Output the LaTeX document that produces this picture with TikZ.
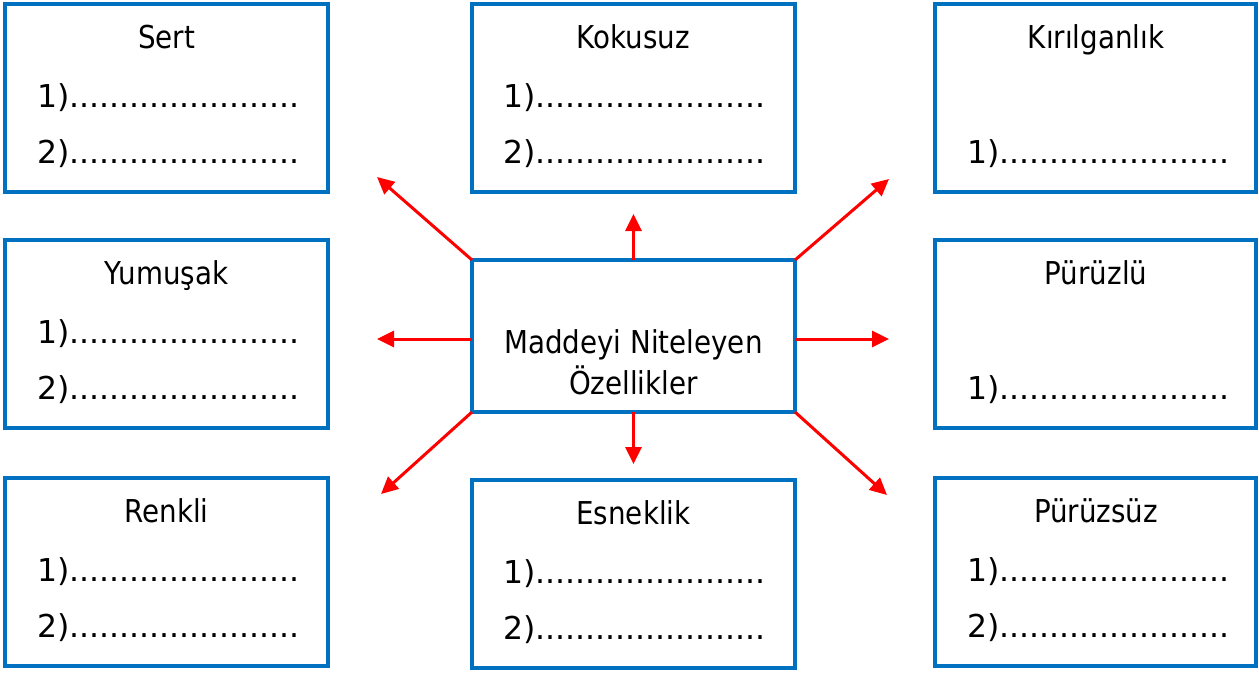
\documentclass[tikz,border=0pt]{standalone}
\usepackage{fontspec}
\setmainfont{DejaVu Sans}[FakeStretch=0.88]
\newfontfamily\dotfont{DejaVu Sans}
\usetikzlibrary{arrows.meta}
\definecolor{boxblue}{HTML}{0070C0}
\definecolor{arrred}{HTML}{FF0000}
\newcommand{\dl}{.......................}
\begin{document}
\begin{tikzpicture}[x=1pt,y=-1pt,
  boxnode/.style={draw=boxblue, line width=3.2pt, rectangle, minimum width=323pt, minimum height=188pt, inner sep=0pt, outer sep=0pt},
  titletext/.style={anchor=base, font=\fontsize{31.5}{37}\selectfont, inner sep=0pt},
  linetext/.style={anchor=base west, font=\dotfont\fontsize{31.5}{37}\selectfont, inner sep=0pt},
  arrowline/.style={draw=arrred, line width=3pt, -{Triangle[length=17pt,width=16pt]}}]
\useasboundingbox[fill=white] (0,0) rectangle (1259,673);

% boxes
\node[boxnode] (sert) at (166.5,98) {};
\node[boxnode] (kok) at (633.5,98) {};
\node[boxnode, minimum width=321pt] (kir) at (1095.5,98) {};
\node[boxnode] (yum) at (166.5,334) {};
\node[boxnode, minimum width=321pt] (puz) at (1095.5,334) {};
\node[boxnode] (ren) at (166.5,572) {};
\node[boxnode] (esn) at (633.5,574) {};
\node[boxnode, minimum width=321pt] (pzs) at (1095.5,572) {};
\node[boxnode, minimum height=152pt] (c) at (633.5,336) {};

% texts
\node[titletext] (sertT) at (166.5,48) {Sert};
\node[linetext] (sert1) at (37,107) {1)\dl};
\node[linetext] (sert2) at (37,163) {2)\dl};

\node[titletext] (kokT) at (633.5,48) {Kokusuz};
\node[linetext] (kok1) at (503,107) {1)\dl};
\node[linetext] (kok2) at (503,163) {2)\dl};

\node[titletext] (kirT) at (1096,48) {Kırılganlık};
\node[linetext] (kir1) at (967,163) {1)\dl};

\node[titletext] (yumT) at (166.5,284) {Yumuşak};
\node[linetext] (yum1) at (37,343) {1)\dl};
\node[linetext] (yum2) at (37,399) {2)\dl};

\node[titletext] (puzT) at (1096,284) {Pürüzlü};
\node[linetext] (puz1) at (967,399) {1)\dl};

\node[titletext] (renT) at (166.5,522) {Renkli};
\node[linetext] (ren1) at (37,581) {1)\dl};
\node[linetext] (ren2) at (37,637) {2)\dl};

\node[titletext] (esnT) at (633.5,524) {Esneklik};
\node[linetext] (esn1) at (503,583) {1)\dl};
\node[linetext] (esn2) at (503,639) {2)\dl};

\node[titletext] (pzsT) at (1096,522) {Pürüzsüz};
\node[linetext] (pzs1) at (967,581) {1)\dl};
\node[linetext] (pzs2) at (967,637) {2)\dl};

\node[titletext] (ct1) at (633.5,353) {Maddeyi Niteleyen};
\node[titletext] (ct2) at (633.5,394) {Özellikler};

% arrow ends
\coordinate (tUL) at (377,177);
\coordinate (tU) at (633.5,214);
\coordinate (tUR) at (889,179);
\coordinate (tL) at (377,339);
\coordinate (tR) at (889,339);
\coordinate (tLL) at (381,494);
\coordinate (tD) at (633.5,464);
\coordinate (tLR) at (887,495);

\draw[arrowline] (c.north west) -- (tUL);
\draw[arrowline] (c.north) -- (tU);
\draw[arrowline] (c.north east) -- (tUR);
\draw[arrowline] ([yshift=-3pt]c.west) -- (tL);
\draw[arrowline] ([yshift=-3pt]c.east) -- (tR);
\draw[arrowline] (c.south west) -- (tLL);
\draw[arrowline] (c.south) -- (tD);
\draw[arrowline] (c.south east) -- (tLR);
\end{tikzpicture}
\end{document}
